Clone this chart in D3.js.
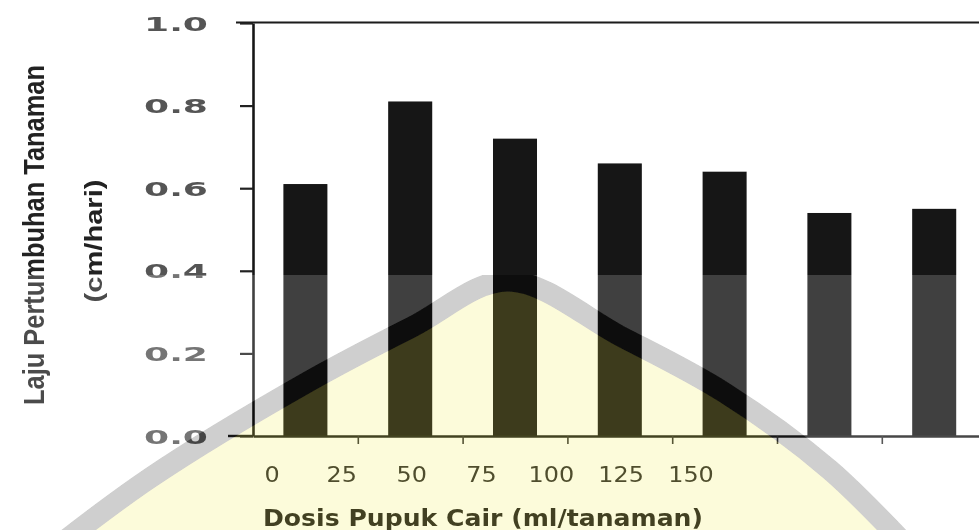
<!DOCTYPE html>
<html>
<head>
<meta charset="utf-8">
<script src="https://cdn.jsdelivr.net/npm/d3@7"></script>
<style>
  html, body { margin: 0; padding: 0; background: #ffffff; }
  svg { display: block; }
</style>
</head>
<body>
<svg id="chart" width="979" height="530"></svg>
<script>
// Growth rate per fertilizer dose
const doses = ["0", "25", "50", "75", "100", "125", "150"];
const growthRate = [0.61, 0.81, 0.72, 0.66, 0.64, 0.54, 0.55];
const yTicks = [0, 0.2, 0.4, 0.6, 0.8, 1.0];
const xTitle = "Dosis Pupuk Cair (ml/tanaman)";
const yTitleLines = ["Laju Pertumbuhan Tanaman", "(cm/hari)"];

const W = 979, H = 530;
const svg = d3.select("#chart");

const plotLeft = 253, plotBottom = 436, plotTop = 23;
const step = 104.8;

const x = d3.scaleBand()
  .domain(doses)
  .range([plotLeft, plotLeft + step * doses.length])
  .paddingInner(0.58)
  .paddingOuter(0.29);

const y = d3.scaleLinear().domain([0, 1]).range([plotBottom, plotTop]);

// category boundaries for the bottom tick marks
const xEdge = d3.scaleLinear().domain([0, doses.length]).range(x.range());

// dose labels sit on their own, narrower spacing under the axis
const xLabel = d3.scalePoint().domain(doses).range([272, 691]);

const defs = svg.append("defs");
const soft = defs.append("filter").attr("id", "soft")
  .attr("x", "-2%").attr("y", "-2%").attr("width", "104%").attr("height", "104%");
soft.append("feGaussianBlur").attr("stdDeviation", 0.45);

defs.append("clipPath").attr("id", "lowerBand")
  .append("rect").attr("x", 0).attr("y", 275).attr("width", W).attr("height", H - 275);

const root = svg.append("g").attr("filter", "url(#soft)");

// bars
root.append("g").selectAll("rect")
  .data(growthRate)
  .join("rect")
  .attr("x", (d, i) => x(doses[i]))
  .attr("y", d => y(d))
  .attr("width", x.bandwidth())
  .attr("height", d => y(0) - y(d))
  .attr("fill", "#131313");

// frame line along the top
root.append("line")
  .attr("x1", 236).attr("x2", W)
  .attr("y1", y(1) - 0.5).attr("y2", y(1) - 0.5)
  .attr("stroke", "#1c1c1c").attr("stroke-width", 2.2);

// y axis
const yAxis = root.append("g")
  .attr("transform", `translate(${plotLeft},0)`)
  .call(d3.axisLeft(y).tickValues(yTicks).tickSize(13).tickSizeOuter(0).tickFormat(d3.format(".1f")));
yAxis.select(".domain").attr("stroke", "#161616").attr("stroke-width", 2.6);
yAxis.selectAll(".tick line").attr("stroke", "#222").attr("stroke-width", 2.2);
yAxis.selectAll(".tick text")
  .attr("x", -45)
  .attr("dy", "0.37em")
  .attr("fill", "#555")
  .style("font-family", "'DejaVu Sans', sans-serif")
  .style("font-weight", "bold")
  .style("font-size", "19px")
  .attr("textLength", 64)
  .attr("lengthAdjust", "spacingAndGlyphs");

// x axis with marks between categories
const xAxis = root.append("g")
  .attr("transform", `translate(0,${plotBottom})`)
  .call(d3.axisBottom(xEdge).tickValues(d3.range(1, doses.length)).tickSize(8).tickSizeOuter(0).tickFormat(""));
xAxis.select(".domain").attr("stroke", "#1c1c1c").attr("stroke-width", 2.4);
xAxis.selectAll(".tick line").attr("stroke", "#333").attr("stroke-width", 1.6);
root.append("line")
  .attr("x1", 228).attr("x2", plotLeft)
  .attr("y1", plotBottom).attr("y2", plotBottom)
  .attr("stroke", "#1c1c1c").attr("stroke-width", 2.4);

// dose labels
root.append("g").selectAll("text")
  .data(doses)
  .join("text")
  .attr("x", d => xLabel(d))
  .attr("y", 482)
  .attr("text-anchor", "middle")
  .attr("fill", "#2a2a2a")
  .style("font-family", "'DejaVu Sans', sans-serif")
  .style("font-size", "21px")
  .attr("textLength", d => d.length * 15.2)
  .attr("lengthAdjust", "spacingAndGlyphs")
  .text(d => d);

// axis titles
root.append("text")
  .attr("x", 483).attr("y", 526)
  .attr("text-anchor", "middle")
  .attr("fill", "#1a1a1a")
  .style("font-family", "'DejaVu Sans', sans-serif")
  .style("font-weight", "bold")
  .style("font-size", "23px")
  .attr("textLength", 440)
  .attr("lengthAdjust", "spacingAndGlyphs")
  .text(xTitle);

root.append("text")
  .attr("transform", "translate(44,235) rotate(-90)")
  .attr("text-anchor", "middle")
  .attr("fill", "#222")
  .style("font-family", "'Liberation Sans Narrow', 'Liberation Sans', sans-serif")
  .style("font-weight", "bold")
  .style("font-size", "30px")
  .attr("textLength", 340)
  .attr("lengthAdjust", "spacingAndGlyphs")
  .text(yTitleLines[0]);

root.append("text")
  .attr("transform", "translate(102,241) rotate(-90)")
  .attr("text-anchor", "middle")
  .attr("fill", "#222")
  .style("font-family", "'Liberation Sans Narrow', 'Liberation Sans', sans-serif")
  .style("font-weight", "bold")
  .style("font-size", "24px")
  .attr("textLength", 123)
  .attr("lengthAdjust", "spacingAndGlyphs")
  .text(yTitleLines[1]);

// faint stamp laid over the lower part of the page
const stamp = root.append("g")
  .attr("clip-path", "url(#lowerBand)")
  .attr("opacity", 0.19);
stamp.append("rect").attr("x", 0).attr("y", 0).attr("width", W).attr("height", H).attr("fill", "#ffffff");
const archPts = [[40, 560], [150, 478], [306, 383], [412, 327], [508, 281], [622, 337], [725, 393], [830, 470], [920, 560]];
const arch = d3.line().curve(d3.curveCatmullRom);
stamp.append("path")
  .attr("d", arch(archPts) + `L${W},${H + 40}L0,${H + 40}Z`)
  .attr("fill", "rgb(240,230,60)");
stamp.append("path")
  .attr("d", arch(archPts))
  .attr("fill", "none")
  .attr("stroke", "#000000")
  .attr("stroke-width", 21);
</script>
</body>
</html>
